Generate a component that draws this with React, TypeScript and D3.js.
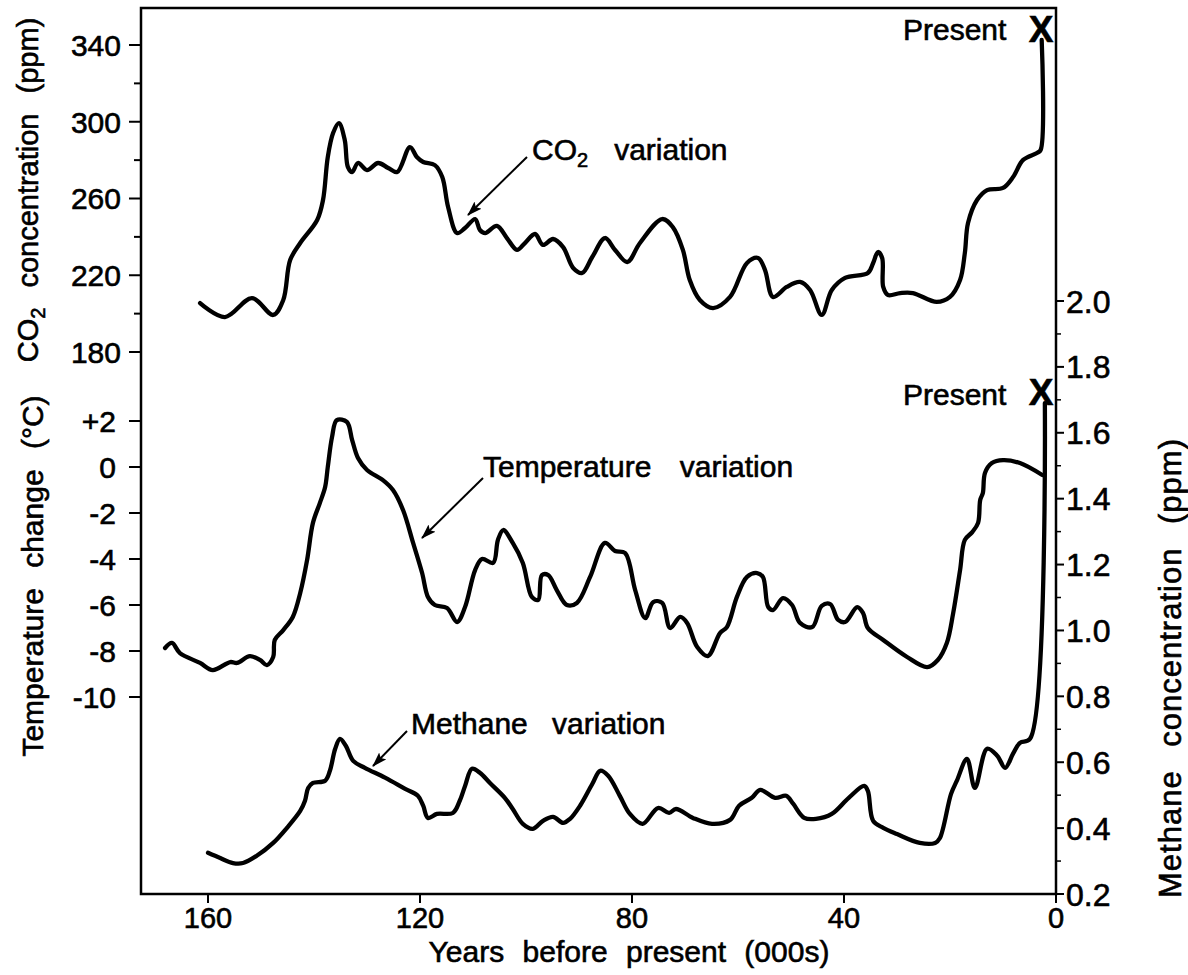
import React from 'react';
import * as d3 from 'd3';

// ---- Data (years before present in thousands) ----
const co2Years = [161.5,156.8,151.7,147.7,145.8,144.5,142.6,139.4,138.3,137.4,136.4,135.3,134.2,133.6,132.8,131.7,130.0,127.9,126.0,124.3,121.9,120.6,119.4,117.2,115.8,114.7,113.0,111.5,109.6,108.7,107.7,105.5,103.6,101.7,100.2,98.3,96.8,94.9,93.0,91.1,89.4,87.5,85.1,83.2,80.9,78.5,74.3,72.3,70.4,69.1,67.2,64.7,61.5,58.3,56.2,54.9,53.4,50.8,48.3,46.4,44.2,42.3,39.8,35.5,34.5,33.6,32.8,32.6,31.7,29.4,27.0,22.5,20.0,18.1,17.2,16.6,14.9,13.0,10.0,8.1,6.2,3.6,2.9,2.7];
const co2Values = [205.5,198.2,208.1,199.3,207.1,227.9,236.8,248.8,259.2,281.6,294.1,299.3,290.5,276.4,273.8,278.5,274.8,278.5,275.9,273.8,286.8,281.6,279.0,277.4,271.2,255.6,242.0,244.6,249.3,243.6,242.0,245.7,239.4,233.2,236.8,241.5,235.8,238.9,234.7,223.8,221.2,229.5,239.4,233.2,226.9,236.8,249.3,245.1,233.2,217.5,207.1,202.9,208.7,226.4,229.0,222.7,208.7,213.9,216.5,212.3,199.3,212.3,218.6,221.2,226.4,232.1,229.0,213.9,209.7,210.7,210.7,206.1,208.7,217.5,231.6,247.2,259.2,264.4,265.5,271.2,280.1,283.7,285.3,342.6];

const tempYears = [168.1,166.8,165.3,161.5,159.1,155.8,154.5,152.1,150.2,148.9,147.7,147.4,145.8,144.0,142.6,141.3,140.2,138.9,137.9,137.4,136.6,135.7,133.8,132.8,131.7,130.0,127.0,125.1,123.2,121.3,119.6,118.5,117.2,114.9,113.0,111.5,109.6,108.3,106.2,105.3,104.3,102.5,100.6,98.9,97.7,97.0,95.8,94.2,92.3,90.4,87.9,85.1,83.2,81.3,79.4,77.5,76.0,74.3,72.8,70.9,69.6,67.7,65.7,63.4,62.1,60.2,58.3,56.4,55.3,54.3,53.4,51.5,49.8,48.3,46.0,44.2,42.6,41.1,39.8,37.5,36.4,35.5,32.6,28.1,24.3,22.3,20.6,19.4,18.1,17.2,15.8,14.7,14.3,13.8,13.4,12.1,10.0,6.8,2.6];
const tempValues = [-7.87,-7.65,-8.09,-8.52,-8.83,-8.48,-8.52,-8.22,-8.39,-8.61,-8.26,-7.52,-7.09,-6.52,-5.48,-4.04,-2.43,-1.57,-0.87,0.0,1.30,2.04,1.96,1.17,0.39,-0.13,-0.57,-1.0,-1.87,-3.30,-4.61,-5.65,-6.0,-6.13,-6.74,-6.09,-4.48,-4.0,-4.17,-3.17,-2.74,-3.30,-4.17,-5.65,-5.78,-4.70,-4.70,-5.35,-6.0,-5.91,-4.78,-3.30,-3.65,-3.74,-5.35,-6.57,-5.87,-5.91,-7.0,-6.52,-6.78,-7.83,-8.22,-7.22,-6.96,-5.65,-4.78,-4.61,-4.78,-6.09,-6.22,-5.70,-6.0,-6.78,-6.96,-6.04,-5.96,-6.65,-6.74,-6.09,-6.35,-7.0,-7.52,-8.26,-8.70,-8.39,-7.65,-6.35,-4.48,-3.17,-2.83,-2.43,-1.43,-1.13,-0.26,0.17,0.30,0.17,-0.35];

const ch4Years = [160.0,157.7,155.3,153.4,150.8,147.7,145.1,142.6,141.7,141.1,140.2,137.9,137.0,136.0,135.1,134.0,132.6,130.4,126.6,122.8,120.4,119.4,118.5,116.8,113.8,112.5,111.5,110.2,108.7,106.8,104.0,102.5,100.6,98.7,96.8,94.9,93.0,91.7,89.8,87.5,86.0,84.5,82.3,80.4,78.0,75.1,73.0,71.7,68.5,64.9,61.5,59.8,57.4,55.8,53.0,50.9,49.6,47.5,45.3,42.3,39.1,36.2,35.5,34.5,32.6,30.0,25.7,22.8,21.9,19.8,18.7,16.8,15.3,13.0,11.1,9.6,8.1,6.8,4.9,2.1];
const ch4Values = [0.325,0.309,0.294,0.294,0.316,0.355,0.401,0.452,0.483,0.522,0.537,0.544,0.574,0.641,0.671,0.650,0.604,0.583,0.553,0.519,0.498,0.468,0.431,0.443,0.446,0.483,0.528,0.580,0.568,0.537,0.492,0.458,0.413,0.398,0.422,0.434,0.416,0.428,0.468,0.534,0.574,0.559,0.498,0.443,0.413,0.461,0.446,0.458,0.431,0.413,0.425,0.468,0.492,0.516,0.492,0.498,0.474,0.431,0.428,0.443,0.492,0.528,0.513,0.422,0.401,0.382,0.355,0.355,0.370,0.504,0.544,0.610,0.522,0.641,0.620,0.583,0.626,0.659,0.671,1.69];

// ---- Ticks ----
const xTicks = [160, 120, 80, 40, 0];
const co2Ticks = [180, 220, 260, 300, 340];
const co2MinorTicks = [200, 240, 280, 320];
const tempTicks = [2, 0, -2, -4, -6, -8, -10];
const tempTickLabels = ['+2', '0', '-2', '-4', '-6', '-8', '-10'];
const ch4Ticks = [0.2, 0.4, 0.6, 0.8, 1.0, 1.2, 1.4, 1.6, 1.8, 2.0];
const ch4MinorTicks = [0.3, 0.5, 0.7, 0.9, 1.1, 1.3, 1.5, 1.7, 1.9];

const FONT = "'Liberation Sans', Arial, Helvetica, sans-serif";

export default function App() {
  const left = 141, right = 1056, top = 8, bottom = 894;
  const x = d3.scaleLinear().domain([160, 0]).range([208, right]);
  const yCO2 = d3.scaleLinear().domain([180, 340]).range([352, 45]);
  const yTemp = d3.scaleLinear().domain([-10, 2]).range([697, 421]);
  const yCH4 = d3.scaleLinear().domain([0.2, 2.0]).range([bottom, 301]);

  const mk = (ys: number[], vs: number[], yS: d3.ScaleLinear<number, number>) => {
    const pts: [number, number][] = ys.map((yr, i) => [yr, vs[i]]);
    return d3.line<[number, number]>()
      .x(d => x(d[0]))
      .y(d => yS(d[1]))
      .curve(d3.curveCatmullRom.alpha(0.5))(pts) as string;
  };

  const co2Path = mk(co2Years, co2Values, yCO2);
  const tempPath = mk(tempYears, tempValues, yTemp);
  const ch4Path = mk(ch4Years, ch4Values, yCH4);
  const fmt = d3.format('.1f');

  const txt = { stroke: '#000', strokeWidth: 0.6, fill: '#000' } as const;

  return (
    <svg width={1188} height={975} style={{ position: 'absolute', left: 0, top: 0, background: '#fff' }} fontFamily={FONT}>
      <defs>
        <marker id="arr" markerUnits="userSpaceOnUse" markerWidth={16} markerHeight={12} refX={14} refY={5} orient="auto">
          <path d="M0,0 L15,5 L0,10 L3,5 z" fill="#000" />
        </marker>
      </defs>
      <rect width={1188} height={975} fill="#fff" />

      {/* frame */}
      <rect x={left} y={top} width={right - left} height={bottom - top} fill="none" stroke="#000" strokeWidth={2.5} />

      <g {...txt}>
        {/* bottom axis */}
        {xTicks.map(t => (
          <g key={'x' + t}>
            <line x1={x(t)} x2={x(t)} y1={bottom} y2={bottom + 9} strokeWidth={2} />
            <text x={x(t)} y={928} fontSize={29} textAnchor="middle">{t}</text>
          </g>
        ))}

        {/* CO2 axis */}
        {co2Ticks.map(t => (
          <g key={'c' + t}>
            <line x1={left - 12} x2={left} y1={yCO2(t)} y2={yCO2(t)} strokeWidth={2} />
            <text x={121} y={yCO2(t)} dy="0.36em" fontSize={30} textAnchor="end">{t}</text>
          </g>
        ))}
        {co2MinorTicks.map(t => (
          <line key={'cm' + t} x1={left - 7} x2={left} y1={yCO2(t)} y2={yCO2(t)} strokeWidth={2} />
        ))}

        {/* Temperature axis */}
        {tempTicks.map((t, i) => (
          <g key={'t' + t}>
            <line x1={left - 12} x2={left} y1={yTemp(t)} y2={yTemp(t)} strokeWidth={2} />
            <text x={116} y={yTemp(t)} dy="0.36em" fontSize={30} textAnchor="end">{tempTickLabels[i]}</text>
          </g>
        ))}

        {/* Methane axis */}
        {ch4Ticks.map(t => (
          <g key={'m' + t}>
            <line x1={right} x2={right + 8} y1={yCH4(t)} y2={yCH4(t)} strokeWidth={2} />
            <text x={1066} y={yCH4(t)} dy="0.36em" fontSize={32}>{fmt(t)}</text>
          </g>
        ))}
        {ch4MinorTicks.map(t => (
          <line key={'mm' + t} x1={right} x2={right + 5} y1={yCH4(t)} y2={yCH4(t)} strokeWidth={1.5} />
        ))}
      </g>

      {/* curves */}
      <path d={co2Path} fill="none" stroke="#000" strokeWidth={4.3} strokeLinejoin="round" strokeLinecap="round" />
      <path d={tempPath} fill="none" stroke="#000" strokeWidth={4.3} strokeLinejoin="round" strokeLinecap="round" />
      <path d={ch4Path} fill="none" stroke="#000" strokeWidth={4.3} strokeLinejoin="round" strokeLinecap="round" />

      <g {...txt}>
        {/* Present markers */}
        <text x={903} y={40} fontSize={30}>Present</text>
        <text x={1041} y={42} fontSize={37} fontWeight="bold" textAnchor="middle">X</text>
        <text x={903} y={405} fontSize={30}>Present</text>
        <text x={1041} y={405} fontSize={37} fontWeight="bold" textAnchor="middle">X</text>

        {/* annotations */}
        <text x={532} y={160} fontSize={30}>CO<tspan fontSize={20} dy={7}>2</tspan><tspan dy={-7} dx={26}>variation</tspan></text>
        <text x={483} y={477} fontSize={30} wordSpacing={20}>Temperature variation</text>
        <text x={411} y={734} fontSize={30} wordSpacing={16}>Methane variation</text>

        {/* axis titles */}
        <text transform="translate(38,190) rotate(-90)" fontSize={29} textAnchor="middle" wordSpacing={12}>
          CO<tspan fontSize={20} dy={7}>2</tspan><tspan dy={-7}> concentration (ppm)</tspan>
        </text>
        <text transform="translate(43,576) rotate(-90)" fontSize={30} textAnchor="middle" wordSpacing={12}>Temperature change (°C)</text>
        <text transform="translate(1181,668) rotate(-90)" fontSize={31} textAnchor="middle" wordSpacing={14} letterSpacing={1}>Methane concentration (ppm)</text>
        <text x={629} y={962} fontSize={30} textAnchor="middle" wordSpacing={10}>Years before present (000s)</text>
      </g>

      {/* arrows */}
      <line x1={527} y1={157} x2={468} y2={215} stroke="#000" strokeWidth={2} markerEnd="url(#arr)" />
      <line x1={483} y1={478} x2={422} y2={538} stroke="#000" strokeWidth={2} markerEnd="url(#arr)" />
      <line x1={407} y1={731} x2={373} y2={766} stroke="#000" strokeWidth={2} markerEnd="url(#arr)" />
    </svg>
  );
}
